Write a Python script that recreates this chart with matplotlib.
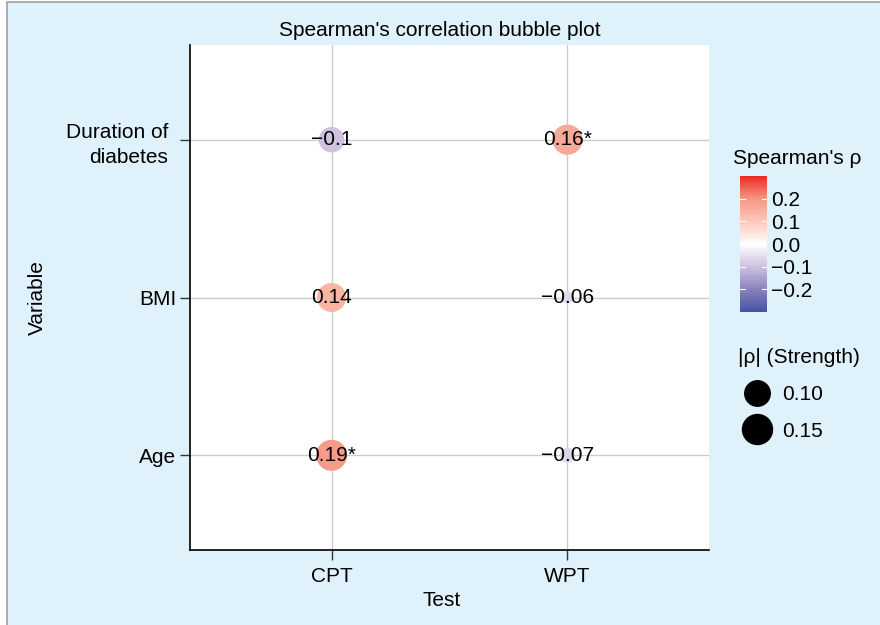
import numpy as np
import matplotlib
matplotlib.use("Agg")
import matplotlib.pyplot as plt
from matplotlib.colors import LinearSegmentedColormap, Normalize
from matplotlib.patches import Rectangle
from matplotlib.lines import Line2D
from matplotlib.transforms import ScaledTranslation

plt.rcParams['font.family'] = ['Liberation Sans', 'DejaVu Sans']

# ---- data ----
tests = ["CPT", "WPT"]
variables = ["Age", "BMI", "Duration of\ndiabetes"]
rho_cpt = [0.19, 0.14, -0.10]
rho_wpt = [-0.07, -0.06, 0.16]
sig_cpt = [True, False, False]
sig_wpt = [False, False, True]
label_cpt = ["0.19", "0.14", "\u22120.1"]
label_wpt = ["\u22120.07", "\u22120.06", "0.16"]
cbar_ticks = [-0.2, -0.1, 0.0, 0.1, 0.2]
size_legend_vals = [0.10, 0.15]

FS = 15
BG = "#dff1fb"
cmap = LinearSegmentedColormap.from_list(
    "sp", [(0.0, "#4653a3"), (0.1667, "#8a82bd"), (0.3333, "#cdc2df"), (0.5, "#ffffff"),
           (0.6667, "#fcc9ba"), (0.8333, "#f59783"), (1.0, "#ea2a22")])
norm = Normalize(-0.3, 0.3)

def size_pts2(r):
    d_px = np.interp(np.abs(r), [0.06, 0.07, 0.10, 0.15, 0.19], [12, 15, 25.5, 30, 31])
    d_pt = d_px * 0.72
    return d_pt ** 2

fig = plt.figure(figsize=(8.8, 6.25), dpi=100)
fig.patch.set_facecolor("white")
fig.patches.append(Rectangle((7 / 880, -0.01), 1.0, 1 - 2 / 625 + 0.01, transform=fig.transFigure,
                             facecolor=BG, edgecolor="#a0a0a0", linewidth=1.2, zorder=-10))

ax = fig.add_axes([190 / 880, 1 - 550 / 625, (709 - 190) / 880, (550 - 45) / 625])
ax.set_facecolor("white")

xs, ys, rs, labs = [], [], [], []
for j, (rvals, sigs, lbls) in enumerate([(rho_cpt, sig_cpt, label_cpt), (rho_wpt, sig_wpt, label_wpt)]):
    for i, r in enumerate(rvals):
        xs.append(j + 1)
        ys.append(i + 1)
        rs.append(r)
        labs.append(lbls[i] + ("*" if sigs[i] else ""))
rs = np.array(rs)
sc = ax.scatter(xs, ys, s=size_pts2(rs), c=rs, cmap=cmap, norm=norm, edgecolors="none", zorder=3)
for x, y, t in zip(xs, ys, labs):
    ax.text(x, y, t, ha="center", va="center", fontsize=FS, color="black", zorder=4)

ax.set_xlim(0.4, 2.6)
ax.set_ylim(0.4, 3.6)
ax.set_xticks([1, 2])
ax.set_xticklabels(tests, fontsize=FS)
ax.set_yticks([1, 2, 3])
ax.set_yticklabels(variables, fontsize=FS, ha="right", linespacing=1.45)
ax.grid(True, color="#cccccc", linewidth=1.0, zorder=0)
ax.set_axisbelow(True)
for s in ["top", "right"]:
    ax.spines[s].set_visible(False)
for s in ["left", "bottom"]:
    ax.spines[s].set_color("black")
    ax.spines[s].set_linewidth(1.2)
ax.tick_params(axis="both", length=7, width=1, color="#333333", pad=3)
ax.tick_params(axis="x", pad=5)
# multi-line label sits a little further left in the reference
ml = ax.get_yticklabels()[2]
ml.set_transform(ml.get_transform() + ScaledTranslation(-8 / 100, 0, fig.dpi_scale_trans))

fig.text(0.5, 1 - 30 / 625, "Spearman's correlation bubble plot", ha="center", va="center", fontsize=FS)
fig.text(442 / 880, 1 - 600 / 625, "Test", ha="center", va="center", fontsize=FS)
fig.text(37 / 880, 1 - 298 / 625, "Variable", ha="center", va="center", rotation=90, fontsize=FS)

# colorbar
cax = fig.add_axes([740 / 880, 1 - 312 / 625, 27 / 880, 136 / 625])
cb = fig.colorbar(sc, cax=cax, ticks=cbar_ticks)
cb.outline.set_visible(False)
cb.ax.set_yticklabels([("\u2212" if t < 0 else "") + f"{abs(t):.1f}" for t in cbar_ticks], fontsize=FS)
cb.ax.tick_params(length=0, pad=3)
for t in cbar_ticks:
    cb.ax.plot([0, 0.2], [t, t], color="white", lw=0.8, transform=cb.ax.get_yaxis_transform())
    cb.ax.plot([0.8, 1.0], [t, t], color="white", lw=0.8, transform=cb.ax.get_yaxis_transform())
fig.text(733 / 880, 1 - 158 / 625, "Spearman's \u03c1", ha="left", va="center", fontsize=FS)

# size legend
handles = [Line2D([], [], linestyle="none", marker="o", color="black",
                  markersize=np.sqrt(size_pts2(v))) for v in size_legend_vals]
leg = fig.legend(handles, [f"{v:.2f}" for v in size_legend_vals], title="|\u03c1| (Strength)",
                 loc="upper left", bbox_to_anchor=(730 / 880, 1 - 340 / 625), frameon=False,
                 fontsize=FS, title_fontsize=FS, handletextpad=0.3, labelspacing=0.85,
                 alignment="left", borderaxespad=0, handlelength=1.8)

fig.savefig("out.png", dpi=100)
